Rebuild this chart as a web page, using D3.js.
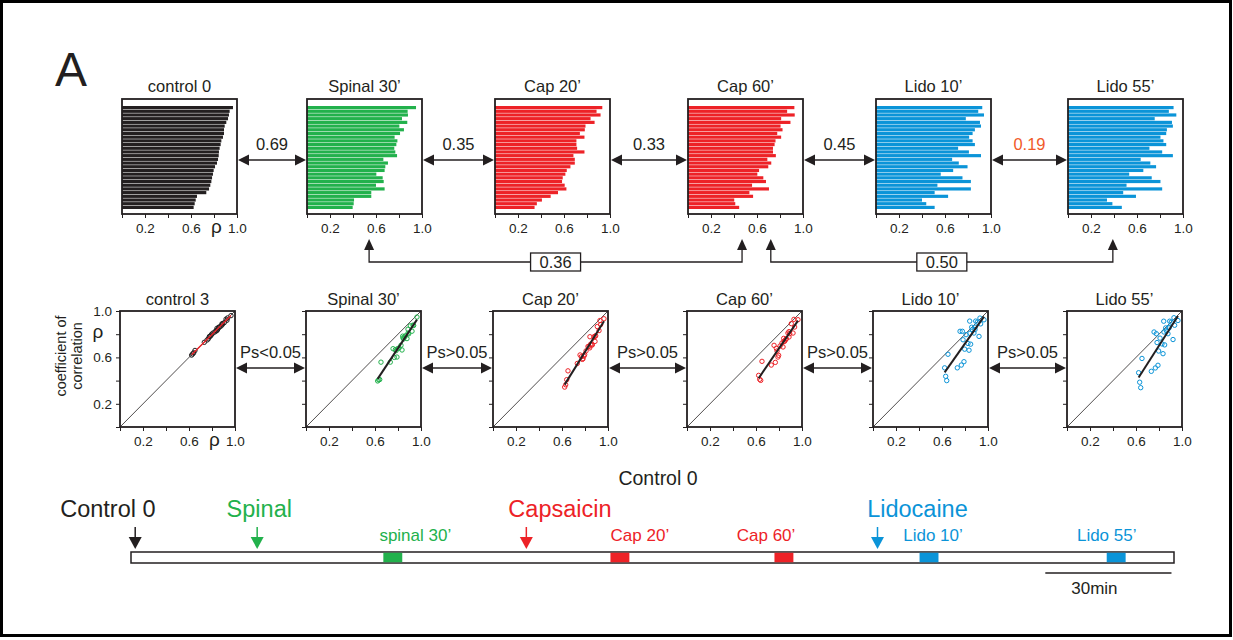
<!DOCTYPE html>
<html><head><meta charset="utf-8">
<script src="https://cdn.jsdelivr.net/npm/d3@7"></script>
<style>
body{margin:0;background:#fff;}
svg{display:block;font-family:"Liberation Sans",Arial,Helvetica,sans-serif;}
</style></head><body>
<svg id="fig" width="1233" height="640"></svg>
<script>
// ---- data: per-neuron correlation coefficients (rho), same row order in every panel ----
const barTitles = ["control 0", "Spinal 30\u2019", "Cap 20\u2019", "Cap 60\u2019", "Lido 10\u2019", "Lido 55\u2019"];
const scatterTitles = ["control 3", "Spinal 30\u2019", "Cap 20\u2019", "Cap 60\u2019", "Lido 10\u2019", "Lido 55\u2019"];

const control0 = [0.965,0.936,0.930,0.922,0.907,0.893,0.887,0.887,0.878,0.864,0.858,0.849,0.843,0.841,0.835,0.826,0.809,0.797,0.791,0.783,0.777,0.768,0.757,0.733,0.652,0.641,0.632,0.623];
const control3 = [0.960,0.940,0.920,0.930,0.900,0.890,0.880,0.890,0.870,0.860,0.860,0.840,0.850,0.830,0.830,0.820,0.810,0.800,0.790,0.780,0.780,0.760,0.750,0.730,0.660,0.640,0.630,0.620];
const spinal30 = [0.948,0.875,0.878,0.826,0.872,0.803,0.843,0.809,0.762,0.786,0.777,0.759,0.768,0.783,0.664,0.704,0.681,0.675,0.603,0.658,0.667,0.600,0.675,0.559,0.559,0.409,0.406,0.397];
const cap20 = [0.933,0.883,0.918,0.831,0.866,0.787,0.781,0.738,0.778,0.708,0.708,0.714,0.778,0.682,0.694,0.694,0.656,0.624,0.612,0.589,0.583,0.606,0.621,0.548,0.484,0.408,0.364,0.344];
const cap60 = [0.925,0.862,0.928,0.810,0.891,0.805,0.822,0.776,0.810,0.761,0.753,0.739,0.739,0.764,0.690,0.724,0.698,0.618,0.603,0.655,0.678,0.557,0.704,0.534,0.566,0.402,0.411,0.445];
const lido10 = [0.924,0.889,0.939,0.781,0.904,0.913,0.860,0.840,0.810,0.840,0.860,0.714,0.808,0.913,0.662,0.720,0.796,0.671,0.563,0.752,0.825,0.534,0.825,0.510,0.627,0.400,0.437,0.510];
const lido55 = [0.918,0.877,0.942,0.754,0.904,0.912,0.860,0.854,0.804,0.830,0.854,0.708,0.819,0.912,0.632,0.716,0.766,0.655,0.532,0.728,0.804,0.509,0.819,0.480,0.591,0.339,0.386,0.468];

const barSeries = [control0, spinal30, cap20, cap60, lido10, lido55];
const scatterSeries = [control3, spinal30, cap20, cap60, lido10, lido55];

// similarity between neighbouring profiles and the paired tests
const neighbourCorr = ["0.69", "0.35", "0.33", "0.45", "0.19"];
const neighbourTests = ["Ps<0.05", "Ps>0.05", "Ps>0.05", "Ps>0.05", "Ps>0.05"];
// long-range comparisons: [panel, rho position] -> [panel, rho position]
const bridges = [
  {from: 1, fromAt: 0.54, to: 3, toAt: 0.47, label: "0.36"},
  {from: 3, fromAt: 0.72, to: 5, toAt: 0.39, label: "0.50"}
];

const axisTicks = [0, 0.2, 0.4, 0.6, 0.8, 1.0];
const axisLabels = {0.2: "0.2", 0.6: "0.6", 1: "1.0"};

// protocol timeline (minutes)
const timelineEnd = 248;
const injections = [
  {name: "Control 0", t: 1, labelAt: -5.5, kind: 0},
  {name: "Spinal", t: 30, labelAt: 30.5, kind: 1},
  {name: "Capsaicin", t: 94, labelAt: 102, kind: 2},
  {name: "Lidocaine", t: 177.5, labelAt: 187, kind: 3}
];
const recordings = [
  {name: "spinal 30\u2019", t: 60, labelAt: 67.6, kind: 1},
  {name: "Cap 20\u2019", t: 114, labelAt: 121, kind: 2},
  {name: "Cap 60\u2019", t: 153, labelAt: 151, kind: 2},
  {name: "Lido 10\u2019", t: 187.5, labelAt: 190.7, kind: 3},
  {name: "Lido 55\u2019", t: 232, labelAt: 232, kind: 3}
];
const recordingLength = 4.5;
const scaleBarMinutes = 30;

// ---- style ----
const ink = "#231f20";
const kindColor = ["#231f20", "#22b14c", "#ed2227", "#0b94d8"];
const panelKind = [0, 1, 2, 2, 3, 3];
const tickFont = 13.5, titleFont = 16.5, noteFont = 16.5;

const svg = d3.select("#fig");
svg.append("rect").attr("x", 1.5).attr("y", 1.5).attr("width", 1229).attr("height", 634)
  .attr("fill", "#fff").attr("stroke", "#000").attr("stroke-width", 3);

svg.append("text").attr("x", 55).attr("y", 86).attr("font-size", 48).attr("fill", ink).text("A");

const W = 115;
const barX = [122, 307, 495, 688, 876, 1068];
const barTop = 99, barH = 115;
const scX = [120, 306, 493, 687, 873, 1067];
const scTop = 311, scH = 116;

function arrowHead(g, x, y, dir, len, half) {
  // (x,y) is the tip
  let pts;
  if (dir === "left") pts = [[x, y], [x + len, y - half], [x + len, y + half]];
  if (dir === "right") pts = [[x, y], [x - len, y - half], [x - len, y + half]];
  if (dir === "up") pts = [[x, y], [x - half, y + len], [x + half, y + len]];
  if (dir === "down") pts = [[x, y], [x - half, y - len], [x + half, y - len]];
  return g.append("path").attr("d", d3.line()(pts) + "Z");
}

function doubleArrow(x1, x2, y, label, color) {
  const g = svg.append("g").attr("fill", ink);
  g.append("line").attr("x1", x1 + 8).attr("x2", x2 - 8).attr("y1", y).attr("y2", y)
    .attr("stroke", ink).attr("stroke-width", 1.6);
  arrowHead(g, x1, y, "left", 11, 5.5);
  arrowHead(g, x2, y, "right", 11, 5.5);
  svg.append("text").attr("x", (x1 + x2) / 2).attr("y", y - 10).attr("text-anchor", "middle")
    .attr("font-size", noteFont).attr("fill", color || ink).text(label);
}

function bottomAxis(g, x, y0, withRho) {
  const ax = d3.axisBottom(x).tickValues(axisTicks).tickSize(4).tickPadding(5)
    .tickFormat(d => axisLabels[d] || "");
  const a = g.append("g").attr("transform", `translate(0,${y0})`).call(ax);
  a.select(".domain").remove();
  a.selectAll("line").attr("stroke", ink).attr("stroke-width", 1);
  a.selectAll("text").attr("font-size", tickFont).attr("fill", ink).attr("font-family", "Liberation Sans, Arial, sans-serif");
  if (withRho) {
    g.append("text").attr("x", x(0.82)).attr("y", y0 + 19).attr("text-anchor", "middle")
      .attr("font-size", 19).attr("fill", ink).text("\u03c1");
  }
}

// ---- top row: rho profiles as horizontal bars ----
barSeries.forEach((vals, i) => {
  const g = svg.append("g").attr("transform", `translate(${barX[i]},${barTop})`);
  const x = d3.scaleLinear().domain([0, 1]).range([0, W]);
  const y = d3.scaleBand().domain(d3.range(vals.length)).range([7, 110]).paddingInner(0.14);
  g.selectAll("rect.bar").data(vals).join("rect").attr("class", "bar")
    .attr("x", x(0)).attr("y", (d, k) => y(k)).attr("width", d => x(d)).attr("height", y.bandwidth())
    .attr("fill", kindColor[panelKind[i]]);
  g.append("rect").attr("width", W).attr("height", barH).attr("fill", "none")
    .attr("stroke", ink).attr("stroke-width", 1.8);
  bottomAxis(g, x, barH, i === 0);
  g.append("text").attr("x", W / 2).attr("y", -7).attr("text-anchor", "middle")
    .attr("font-size", titleFont).attr("fill", ink).text(barTitles[i]);
});

neighbourCorr.forEach((lab, i) => {
  doubleArrow(barX[i] + W + 1, barX[i + 1] - 1, 160, lab, lab === "0.19" ? "#f15a29" : ink);
});

// long-range bracket arrows under the bar row
bridges.forEach(b => {
  const x = d3.scaleLinear().domain([0, 1]).range([0, W]);
  const xa = barX[b.from] + x(b.fromAt), xb = barX[b.to] + x(b.toAt);
  const tipY = 239, baseY = 262;
  const g = svg.append("g").attr("fill", ink);
  g.append("path").attr("d", d3.line()([[xa, tipY + 9], [xa, baseY], [xb, baseY], [xb, tipY + 9]]))
    .attr("fill", "none").attr("stroke", ink).attr("stroke-width", 1.3);
  arrowHead(g, xa, tipY, "up", 11, 5);
  arrowHead(g, xb, tipY, "up", 11, 5);
  const cx = (xa + xb) / 2;
  svg.append("rect").attr("x", cx - 25).attr("y", baseY - 9).attr("width", 50).attr("height", 18)
    .attr("fill", "#fff").attr("stroke", ink).attr("stroke-width", 1.3);
  svg.append("text").attr("x", cx).attr("y", baseY + 6).attr("text-anchor", "middle")
    .attr("font-size", noteFont).attr("fill", ink).text(b.label);
});

// ---- bottom row: each condition against control 0 ----
function fit(xs, ys) {
  const mx = d3.mean(xs), my = d3.mean(ys);
  let sxy = 0, sxx = 0;
  xs.forEach((v, k) => { sxy += (v - mx) * (ys[k] - my); sxx += (v - mx) * (v - mx); });
  const slope = sxy / sxx;
  return v => my + slope * (v - mx);
}

scatterSeries.forEach((vals, i) => {
  const g = svg.append("g").attr("transform", `translate(${scX[i]},${scTop})`);
  const x = d3.scaleLinear().domain([0, 1]).range([0, W]);
  const y = d3.scaleLinear().domain([0, 1]).range([scH, 0]);
  const color = kindColor[panelKind[i]];

  g.append("line").attr("x1", x(0)).attr("y1", y(0)).attr("x2", x(1)).attr("y2", y(1))
    .attr("stroke", ink).attr("stroke-width", 0.8);

  const pts = control0.map((c, k) => [c, vals[k]]);
  g.selectAll("circle").data(pts).join("circle")
    .attr("cx", d => x(d[0])).attr("cy", d => y(d[1])).attr("r", 2.2)
    .attr("fill", "none").attr("stroke", i === 0 ? ink : color).attr("stroke-width", 1);

  const f = fit(control0, vals);
  const [lo, hi] = d3.extent(control0);
  g.append("line").attr("x1", x(lo)).attr("y1", y(f(lo))).attr("x2", x(hi)).attr("y2", y(f(hi)))
    .attr("stroke", i === 0 ? "#ed2227" : ink).attr("stroke-width", i === 0 ? 1.3 : 2);

  g.append("rect").attr("width", W).attr("height", scH).attr("fill", "none")
    .attr("stroke", ink).attr("stroke-width", 1.8);

  bottomAxis(g, x, scH, i === 0);
  const yax = d3.axisLeft(y).tickValues(axisTicks).tickSize(4).tickPadding(4)
    .tickFormat(d => i === 0 ? (axisLabels[d] || "") : "");
  const ya = g.append("g").call(yax);
  ya.select(".domain").remove();
  ya.selectAll("line").attr("stroke", ink);
  ya.selectAll("text").attr("font-size", tickFont).attr("fill", ink).attr("font-family", "Liberation Sans, Arial, sans-serif");
  if (i === 0) {
    g.append("text").attr("x", -22).attr("y", y(0.8) + 4).attr("text-anchor", "middle")
      .attr("font-size", 19).attr("fill", ink).text("\u03c1");
  }
  g.append("text").attr("x", W / 2).attr("y", -6).attr("text-anchor", "middle")
    .attr("font-size", titleFont).attr("fill", ink).text(scatterTitles[i]);
});

neighbourTests.forEach((lab, i) => {
  doubleArrow(scX[i] + W + 1, scX[i + 1] - 1, 368, lab, ink);
});

// y-axis title
[["coefficient of", 66], ["correlation", 82]].forEach(([t, xx]) => {
  svg.append("text").attr("transform", `translate(${xx},356) rotate(-90)`).attr("text-anchor", "middle")
    .attr("font-size", 14.5).attr("fill", ink).text(t);
});
svg.append("text").attr("x", 658).attr("y", 485).attr("text-anchor", "middle")
  .attr("font-size", 19.5).attr("fill", ink).text("Control 0");

// ---- protocol timeline ----
const t = d3.scaleLinear().domain([0, timelineEnd]).range([131, 1174]);
const tlTop = 552, tlH = 11;
svg.append("rect").attr("x", t(0)).attr("y", tlTop).attr("width", t(timelineEnd) - t(0)).attr("height", tlH)
  .attr("fill", "#fff").attr("stroke", ink).attr("stroke-width", 1.5);
svg.selectAll("rect.rec").data(recordings).join("rect").attr("class", "rec")
  .attr("x", d => t(d.t)).attr("y", tlTop + 0.75).attr("width", d => t(d.t + recordingLength) - t(d.t))
  .attr("height", tlH - 1.5).attr("fill", d => kindColor[d.kind]);
svg.selectAll("text.rec").data(recordings).join("text").attr("class", "rec")
  .attr("x", d => t(d.labelAt)).attr("y", 541).attr("text-anchor", "middle")
  .attr("font-size", 17).attr("fill", d => kindColor[d.kind]).text(d => d.name);

injections.forEach(d => {
  const c = kindColor[d.kind], xx = t(d.t);
  const g = svg.append("g").attr("fill", c);
  g.append("line").attr("x1", xx).attr("x2", xx).attr("y1", 527).attr("y2", 539)
    .attr("stroke", c).attr("stroke-width", 1.5);
  arrowHead(g, xx, 549, "down", 12, 6.5);
  svg.append("text").attr("x", t(d.labelAt)).attr("y", 517).attr("text-anchor", "middle")
    .attr("font-size", 23.5).attr("fill", c).text(d.name);
});

const sbEnd = timelineEnd - 0.6;
svg.append("line").attr("x1", t(sbEnd - scaleBarMinutes)).attr("x2", t(sbEnd)).attr("y1", 573).attr("y2", 573)
  .attr("stroke", ink).attr("stroke-width", 1.5);
svg.append("text").attr("x", t(sbEnd - scaleBarMinutes / 2) - 14).attr("y", 594).attr("text-anchor", "middle")
  .attr("font-size", 17).attr("fill", ink).text(scaleBarMinutes + "min");
</script>
</body></html>
